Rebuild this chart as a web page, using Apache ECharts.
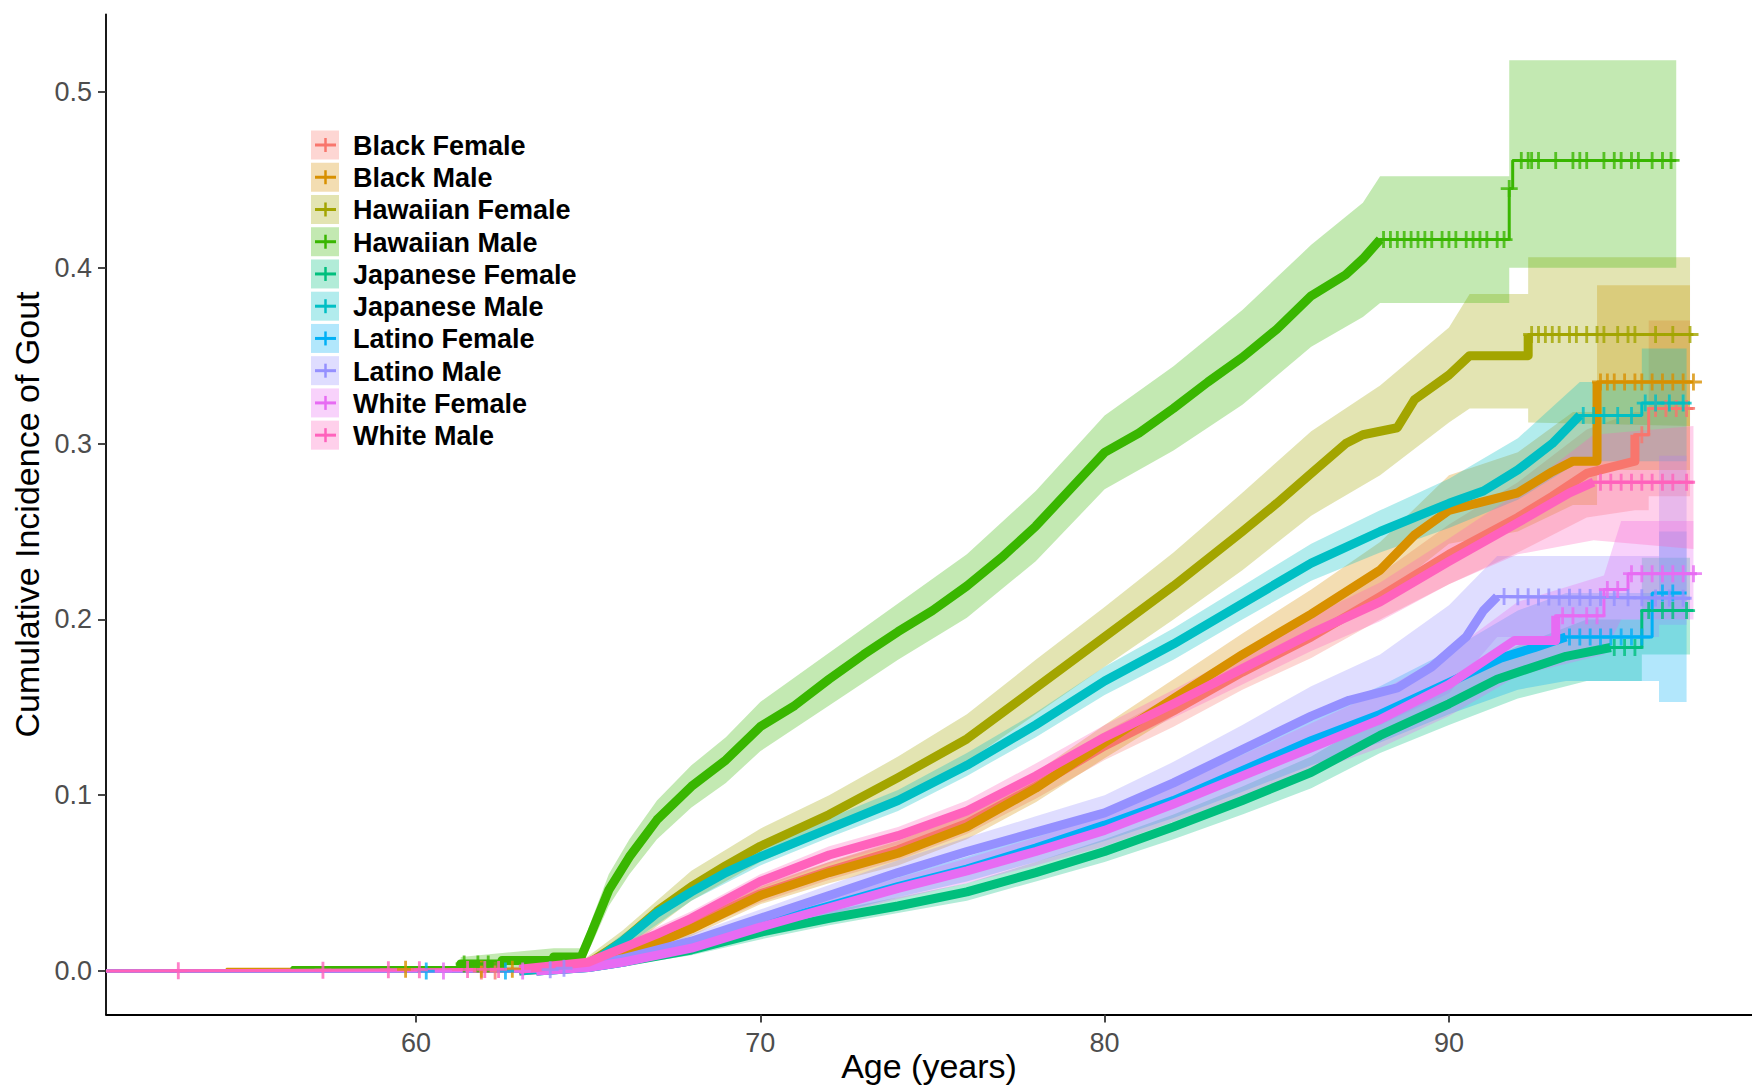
<!DOCTYPE html>
<html>
<head>
<meta charset="utf-8">
<script src="https://cdn.jsdelivr.net/npm/echarts@6/dist/echarts.min.js"></script>
<style>
  html, body { margin: 0; padding: 0; background: #fff; }
  #chart { width: 1752px; height: 1088px; }
</style>
</head>
<body>
<div id="chart"></div>
<script>
// 组名和颜色（ggplot 默认色）
const groupNames = ['Black Female', 'Black Male', 'Hawaiian Female', 'Hawaiian Male', 'Japanese Female',
  'Japanese Male', 'Latino Female', 'Latino Male', 'White Female', 'White Male']
const groupColors = ['#F8766D', '#D89000', '#A3A500', '#39B600', '#00BF7D',
  '#00BFC4', '#00B0F6', '#9590FF', '#E76BF3', '#FF62BC']

const xTicks = [60, 70, 80, 90]
const yTicks = [0, 0.1, 0.2, 0.3, 0.4, 0.5]

// Black Female
const bfAge = [51, 63, 65, 66, 67, 68, 70, 72, 74, 76, 78, 80, 82, 84, 86, 88, 90, 92, 93, 94, 95.4, 95.4, 95.8, 95.8, 97.1]
const bfEst = [0, 0, 0.003, 0.01, 0.018, 0.026, 0.044, 0.057, 0.069, 0.084, 0.105, 0.128, 0.148, 0.17, 0.19, 0.213, 0.237, 0.258, 0.27, 0.283, 0.29, 0.305, 0.305, 0.32, 0.32]
const bfBand = [[63, 0, 0.002], [65, 0.001, 0.005], [66, 0.007, 0.013], [68, 0.022, 0.03], [70, 0.039, 0.049], [72, 0.052, 0.062], [74, 0.063, 0.075], [76, 0.078, 0.09], [78, 0.098, 0.112], [80, 0.12, 0.136], [82, 0.139, 0.157], [84, 0.16, 0.18], [86, 0.178, 0.202], [88, 0.2, 0.226], [90, 0.22, 0.254], [92, 0.238, 0.278], [94, 0.258, 0.308], [95.4, 0.262, 0.318], [95.8, 0.262, 0.318], [95.8, 0.27, 0.37], [97, 0.27, 0.37]]
const bfCens = [61.9, 62.3, 95.6, 96.0, 96.3, 96.6, 96.9]
const bfDense = [62.8, 95.4]

// Black Male
const bmAge = [51, 54.5, 54.5, 63, 65, 66, 67, 68, 70, 72, 74, 76, 78, 80, 82, 84, 86, 88, 89, 90, 91, 92, 93, 93.6, 94.3, 94.3, 97.1]
const bmEst = [0, 0, 0.001, 0.001, 0.003, 0.009, 0.016, 0.024, 0.043, 0.056, 0.067, 0.082, 0.104, 0.13, 0.155, 0.18, 0.203, 0.228, 0.248, 0.262, 0.267, 0.272, 0.284, 0.29, 0.29, 0.335, 0.335]
const bmBand = [[63, 0, 0.003], [65, 0.001, 0.006], [66, 0.006, 0.012], [68, 0.02, 0.028], [70, 0.038, 0.048], [72, 0.05, 0.062], [74, 0.06, 0.074], [76, 0.075, 0.09], [78, 0.096, 0.113], [80, 0.121, 0.14], [82, 0.145, 0.166], [84, 0.168, 0.192], [86, 0.19, 0.217], [88, 0.212, 0.244], [90, 0.243, 0.282], [92, 0.25, 0.295], [93.6, 0.265, 0.318], [94.3, 0.265, 0.318], [94.3, 0.285, 0.39], [97, 0.285, 0.39]]
const bmCens = [59.7, 61.9, 62.8, 94.4, 94.6, 94.8, 95.1, 95.4, 95.6, 95.9, 96.2, 96.5, 96.8, 97.1]
const bmDense = [62, 94.3]

// Hawaiian Female
const hfAge = [51, 63, 64.9, 66, 67, 68, 69, 70, 72, 74, 76, 78, 80, 82, 84, 85, 86, 87, 87.5, 88.5, 89, 90, 90.6, 92.3, 92.3, 97.1]
const hfEst = [0, 0.001, 0.003, 0.017, 0.034, 0.048, 0.06, 0.071, 0.089, 0.11, 0.132, 0.161, 0.19, 0.219, 0.25, 0.266, 0.283, 0.3, 0.305, 0.309, 0.325, 0.339, 0.35, 0.35, 0.362, 0.362]
const hfBand = [[63, 0, 0.004], [64.9, 0.001, 0.007], [66, 0.011, 0.023], [68, 0.04, 0.057], [70, 0.062, 0.081], [72, 0.079, 0.1], [74, 0.098, 0.122], [76, 0.119, 0.146], [78, 0.146, 0.177], [80, 0.173, 0.207], [82, 0.2, 0.238], [84, 0.228, 0.272], [86, 0.259, 0.307], [88, 0.282, 0.333], [90, 0.312, 0.366], [90.6, 0.32, 0.385], [92.3, 0.32, 0.385], [92.3, 0.312, 0.406], [97, 0.31, 0.406]]
const hfCens = [92.4, 92.6, 92.8, 93.0, 93.2, 93.5, 93.7, 94.0, 94.3, 94.5, 94.9, 95.2, 95.4, 96.0, 96.5, 97.0]
const hfDense = [63, 92.3]

// Hawaiian Male
const hmAge = [51, 56.4, 56.4, 61.3, 61.3, 62.5, 62.5, 64, 64, 64.8, 65.1, 65.6, 66.2, 67, 68, 69, 70, 71, 72, 73, 74, 75, 76, 77, 78, 79, 80, 81, 82, 83, 84, 85, 86, 87, 87.5, 88, 91.75, 91.75, 91.85, 91.85, 96.6]
const hmEst = [0, 0, 0.002, 0.002, 0.004, 0.004, 0.006, 0.006, 0.008, 0.008, 0.022, 0.046, 0.065, 0.086, 0.105, 0.12, 0.139, 0.151, 0.166, 0.18, 0.193, 0.205, 0.219, 0.235, 0.253, 0.274, 0.295, 0.306, 0.32, 0.335, 0.349, 0.365, 0.384, 0.396, 0.405, 0.416, 0.416, 0.445, 0.445, 0.461, 0.461]
const hmBand = [[61.3, 0, 0.008], [64, 0.003, 0.013], [64.8, 0.004, 0.013], [65.1, 0.015, 0.029], [65.6, 0.037, 0.055], [66.2, 0.055, 0.075], [67, 0.075, 0.097], [68, 0.093, 0.117], [69, 0.107, 0.133], [70, 0.125, 0.153], [72, 0.151, 0.181], [74, 0.177, 0.209], [76, 0.201, 0.237], [78, 0.233, 0.273], [80, 0.274, 0.316], [82, 0.296, 0.344], [84, 0.322, 0.376], [86, 0.355, 0.413], [87.5, 0.372, 0.437], [88, 0.38, 0.452], [91.75, 0.38, 0.452], [91.75, 0.4, 0.518], [96.6, 0.4, 0.518]]
const hmCens = [61.4, 61.8, 62.1, 88.1, 88.3, 88.5, 88.7, 88.9, 89.1, 89.3, 89.5, 89.8, 90.0, 90.2, 90.5, 90.7, 90.9, 91.1, 91.4, 91.6, 91.75,
  92.1, 92.3, 92.4, 92.6, 93.1, 93.6, 93.8, 94.0, 94.5, 94.8, 95.0, 95.3, 95.5, 95.9, 96.2, 96.45]
const hmDense = [61.3, 88]

// Japanese Female
const jfAge = [51, 63.5, 65, 66, 68, 70, 72, 74, 76, 78, 80, 82, 84, 86, 88, 90, 91.4, 93.4, 94.7, 95.6, 95.6, 97.1]
const jfEst = [0, 0, 0.002, 0.005, 0.012, 0.022, 0.03, 0.037, 0.045, 0.056, 0.068, 0.082, 0.097, 0.113, 0.134, 0.152, 0.166, 0.179, 0.184, 0.184, 0.205, 0.205]
const jfBand = [[63.5, 0, 0.002], [65, 0.001, 0.004], [66, 0.003, 0.007], [68, 0.009, 0.015], [70, 0.018, 0.026], [72, 0.026, 0.034], [74, 0.033, 0.042], [76, 0.04, 0.05], [78, 0.051, 0.062], [80, 0.062, 0.075], [82, 0.075, 0.089], [84, 0.089, 0.105], [86, 0.104, 0.122], [88, 0.124, 0.145], [90, 0.14, 0.165], [92, 0.155, 0.185], [94, 0.165, 0.2], [95.6, 0.165, 0.2], [95.6, 0.18, 0.235], [97, 0.18, 0.235]]
const jfCens = [94.8, 95.1, 95.4, 95.8, 96.2, 96.5, 96.9]
const jfDense = [62.8, 94.7]

// Japanese Male
const jmAge = [51, 63, 65, 66, 67, 68, 69, 70, 72, 74, 76, 78, 80, 82, 84, 86, 88, 90, 91, 92, 93, 93.8, 95.6, 95.6, 97]
const jmEst = [0, 0, 0.003, 0.017, 0.033, 0.045, 0.056, 0.065, 0.081, 0.097, 0.117, 0.14, 0.165, 0.186, 0.209, 0.232, 0.25, 0.266, 0.273, 0.285, 0.3, 0.316, 0.316, 0.323, 0.323]
const jmBand = [[63, 0, 0.002], [65, 0.001, 0.006], [66, 0.013, 0.021], [68, 0.04, 0.05], [70, 0.06, 0.07], [72, 0.076, 0.087], [74, 0.091, 0.103], [76, 0.111, 0.124], [78, 0.133, 0.147], [80, 0.157, 0.173], [82, 0.177, 0.195], [84, 0.2, 0.219], [86, 0.222, 0.243], [88, 0.238, 0.262], [90, 0.252, 0.28], [92, 0.268, 0.303], [93.8, 0.29, 0.335], [95.6, 0.29, 0.335], [95.6, 0.29, 0.354], [96.9, 0.29, 0.354]]
const jmCens = [93.9, 94.2, 94.5, 94.9, 95.3, 95.7, 96.0, 96.4, 96.8]
const jmDense = [62.8, 93.8]

// Latino Female
const lfAge = [51, 63.5, 65, 66, 68, 70, 72, 74, 76, 78, 80, 82, 84, 86, 88, 90, 91.5, 92.5, 93.4, 95.9, 95.9, 96.9]
const lfEst = [0, 0, 0.002, 0.005, 0.014, 0.026, 0.037, 0.048, 0.058, 0.07, 0.083, 0.097, 0.114, 0.131, 0.146, 0.164, 0.178, 0.184, 0.19, 0.19, 0.215, 0.215]
const lfBand = [[63.5, 0, 0.002], [65, 0.001, 0.004], [66, 0.003, 0.008], [68, 0.011, 0.018], [70, 0.022, 0.031], [72, 0.032, 0.042], [74, 0.042, 0.054], [76, 0.051, 0.065], [78, 0.062, 0.078], [80, 0.074, 0.092], [82, 0.087, 0.107], [84, 0.102, 0.126], [86, 0.117, 0.145], [88, 0.13, 0.162], [90, 0.146, 0.182], [92, 0.16, 0.205], [93.4, 0.165, 0.215], [96.1, 0.165, 0.215], [96.1, 0.153, 0.25], [96.9, 0.153, 0.25]]
const lfCens = [60.3, 62.6, 93.5, 93.8, 94.1, 94.4, 94.7, 95.0, 95.3, 95.6, 96.2, 96.5]
const lfDense = [62.8, 93.4]

// Latino Male
const lmAge = [51, 63.5, 65, 66, 68, 70, 72, 74, 76, 78, 80, 82, 84, 86, 87.1, 88.5, 89.5, 90.5, 91.0, 91.4, 97]
const lmEst = [0, 0, 0.003, 0.007, 0.017, 0.03, 0.043, 0.056, 0.068, 0.079, 0.09, 0.107, 0.126, 0.145, 0.154, 0.161, 0.173, 0.19, 0.205, 0.213, 0.212]
const lmBand = [[63.5, 0, 0.002], [65, 0.001, 0.005], [66, 0.004, 0.01], [68, 0.013, 0.021], [70, 0.025, 0.035], [72, 0.037, 0.049], [74, 0.049, 0.063], [76, 0.06, 0.076], [78, 0.07, 0.088], [80, 0.08, 0.1], [82, 0.095, 0.119], [84, 0.112, 0.14], [86, 0.128, 0.162], [88, 0.14, 0.18], [90, 0.158, 0.208], [91.4, 0.19, 0.236], [96.1, 0.19, 0.236], [96.1, 0.197, 0.293], [96.9, 0.197, 0.293]]
const lmCens = [63.9, 64.3, 91.6, 92.0, 92.3, 92.6, 92.9, 93.2, 93.5, 93.8, 94.1, 94.4, 94.8, 95.2, 95.6, 96.0, 96.4, 96.8]
const lmDense = [62.8, 91.4]

// White Female
const wfAge = [51, 63.5, 65, 66, 68, 70, 72, 74, 76, 78, 80, 82, 84, 86, 88, 90, 91.9, 93.1, 93.1, 94.5, 94.5, 95.2, 95.2, 97.2]
const wfEst = [0, 0, 0.002, 0.005, 0.013, 0.025, 0.036, 0.047, 0.057, 0.068, 0.08, 0.095, 0.111, 0.127, 0.143, 0.163, 0.188, 0.188, 0.202, 0.202, 0.217, 0.217, 0.226, 0.226]
const wfBand = [[63.5, 0, 0.002], [65, 0.001, 0.004], [66, 0.003, 0.007], [68, 0.01, 0.016], [70, 0.021, 0.029], [72, 0.031, 0.041], [74, 0.041, 0.053], [76, 0.05, 0.064], [78, 0.06, 0.076], [80, 0.071, 0.089], [82, 0.085, 0.105], [84, 0.099, 0.123], [86, 0.113, 0.141], [88, 0.127, 0.159], [90, 0.145, 0.181], [92, 0.168, 0.21], [94.5, 0.18, 0.225], [95, 0.2, 0.256], [97.1, 0.2, 0.256]]
const wfCens = [60.8, 63.1, 93.3, 93.6, 94.0, 94.3, 94.6, 94.9, 95.3, 95.6, 95.9, 96.2, 96.5, 96.8, 97.1]
const wfDense = [62.8, 93.1]

// White Male
const wmAge = [51, 63, 65, 66, 67, 68, 70, 72, 74, 76, 78, 80, 82, 84, 86, 88, 90, 92, 93.5, 94.2, 97.1]
const wmEst = [0, 0.001, 0.005, 0.013, 0.021, 0.03, 0.051, 0.066, 0.077, 0.091, 0.111, 0.133, 0.152, 0.172, 0.192, 0.21, 0.233, 0.255, 0.272, 0.278, 0.278]
const wmBand = [[63, 0, 0.003], [65, 0.003, 0.007], [66, 0.01, 0.016], [68, 0.026, 0.034], [70, 0.047, 0.055], [72, 0.061, 0.071], [74, 0.072, 0.082], [76, 0.085, 0.097], [78, 0.104, 0.118], [80, 0.126, 0.14], [82, 0.144, 0.16], [84, 0.163, 0.181], [86, 0.182, 0.202], [88, 0.199, 0.221], [90, 0.22, 0.246], [92, 0.237, 0.272], [94.2, 0.245, 0.305], [97.1, 0.24, 0.31]]
const wmCens = [53.1, 57.3, 59.2, 60.1, 61.5, 62.0, 62.4, 94.4, 94.7, 95.0, 95.3, 95.6, 95.9, 96.2, 96.5, 96.9]
const wmDense = [62.5, 94.2]

const allAge = [bfAge, bmAge, hfAge, hmAge, jfAge, jmAge, lfAge, lmAge, wfAge, wmAge]
const allEst = [bfEst, bmEst, hfEst, hmEst, jfEst, jmEst, lfEst, lmEst, wfEst, wmEst]
const allBand = [bfBand, bmBand, hfBand, hmBand, jfBand, jmBand, lfBand, lmBand, wfBand, wmBand]
const allCens = [bfCens, bmCens, hfCens, hmCens, jfCens, jmCens, lfCens, lmCens, wfCens, wmCens]
const allDense = [bfDense, bmDense, hfDense, hmDense, jfDense, jmDense, lfDense, lmDense, wfDense, wmDense]

// 删失标记 +
const plusPath = 'path://M7.5,0h3v7.5h7.5v3h-7.5v7.5h-3v-7.5h-7.5v-3h7.5z'

function rgba(hex, a) {
  const n = parseInt(hex.slice(1), 16)
  return 'rgba(' + (n >> 16) + ',' + ((n >> 8) & 255) + ',' + (n & 255) + ',' + a + ')'
}

// 在估计曲线上取某年龄的值（删失点用）
function estAt(ages, est, a) {
  let v = est[0]
  for (let i = 0; i < ages.length - 1; i++) {
    if (a >= ages[i] && a <= ages[i + 1]) {
      const span = ages[i + 1] - ages[i]
      v = span === 0 ? est[i + 1] : est[i] + (est[i + 1] - est[i]) * (a - ages[i]) / span
    }
  }
  if (a > ages[ages.length - 1]) v = est[est.length - 1]
  return v
}

const bandList = []
const lineList = []
const censList = []
groupNames.forEach((name, g) => {
  const color = groupColors[g]
  const ages = allAge[g]
  const est = allEst[g]
  const band = allBand[g]
  const pts = ages.map((a, i) => [a, est[i]])
  bandList.push({
    type: 'custom',
    name: name,
    data: band,
    encode: { x: 0, y: [1, 2] },
    clip: true,
    silent: true,
    z: 1,
    renderItem: function (params, api) {
      if (params.dataIndex !== 0) return null
      const top = band.map(d => api.coord([d[0], d[2]]))
      const bottom = band.slice().reverse().map(d => api.coord([d[0], d[1]]))
      return { type: 'polygon', shape: { points: top.concat(bottom) }, style: { fill: rgba(color, 0.3) } }
    }
  })
  lineList.push({
    type: 'line',
    name: name,
    data: pts,
    showSymbol: false,
    silent: true,
    z: 3,
    lineStyle: { color: color, width: 3 },
    itemStyle: { color: color }
  })
  // 密集删失处画粗线
  const dr = allDense[g]
  lineList.push({
    type: 'line',
    name: name,
    data: pts.filter(p => p[0] >= dr[0] && p[0] <= dr[1]),
    showSymbol: false,
    silent: true,
    z: 3,
    lineStyle: { color: color, width: 9, cap: 'butt', join: 'round' },
    itemStyle: { color: color }
  })
  censList.push({
    type: 'scatter',
    name: name,
    data: allCens[g].map(a => [a, estAt(ages, est, a)]),
    symbol: plusPath,
    symbolSize: 17,
    silent: true,
    z: 4,
    itemStyle: { color: color }
  })
})

// 图例（手绘）
const legendItems = []
groupNames.forEach((name, g) => {
  const cy = 145 + g * 32.24
  const color = groupColors[g]
  legendItems.push(
    { type: 'rect', shape: { x: 311, y: cy - 14.5, width: 28, height: 29 }, style: { fill: rgba(color, 0.3) } },
    { type: 'line', shape: { x1: 315, y1: cy, x2: 336, y2: cy }, style: { stroke: color, lineWidth: 3 } },
    { type: 'line', shape: { x1: 325.5, y1: cy - 7, x2: 325.5, y2: cy + 7 }, style: { stroke: color, lineWidth: 2.5 } },
    { type: 'text', x: 353, y: cy + 1, style: { text: name, fill: '#000', font: 'bold 27px "Liberation Sans", Arial, sans-serif', textVerticalAlign: 'middle' } }
  )
})

const option = {
  animation: false,
  backgroundColor: '#fff',
  grid: { left: 106, right: 0, top: 14.5, bottom: 73.5, containLabel: false, outerBoundsMode: 'none' },
  xAxis: {
    type: 'value',
    min: 51,
    max: 98.8,
    name: 'Age (years)',
    nameLocation: 'middle',
    nameGap: 34,
    nameMoveOverlap: false,
    nameTextStyle: { fontFamily: 'Liberation Sans', fontSize: 34, color: '#000' },
    axisLine: { onZero: false, lineStyle: { color: '#000', width: 1.8 } },
    axisTick: { customValues: xTicks, length: 8, lineStyle: { color: '#333', width: 1.8 } },
    axisLabel: { customValues: xTicks, margin: 15, fontFamily: 'Liberation Sans', fontSize: 27, color: '#4D4D4D' },
    splitLine: { show: false }
  },
  yAxis: {
    type: 'value',
    min: -0.0247,
    max: 0.544,
    name: 'Cumulative Incidence of Gout',
    nameLocation: 'middle',
    nameRotate: 90,
    nameGap: 62,
    nameMoveOverlap: false,
    nameTextStyle: { fontFamily: 'Liberation Sans', fontSize: 34, color: '#000' },
    axisLine: { onZero: false, lineStyle: { color: '#000', width: 1.8 } },
    axisTick: { customValues: yTicks, length: 8, lineStyle: { color: '#333', width: 1.8 } },
    axisLabel: { customValues: yTicks, margin: 14, fontFamily: 'Liberation Sans', fontSize: 27, color: '#4D4D4D', formatter: v => v.toFixed(1) },
    splitLine: { show: false }
  },
  graphic: { elements: legendItems },
  series: bandList.concat(lineList, censList)
}

const chartObj = echarts.init(document.getElementById('chart'), null, { renderer: 'svg' })
chartObj.setOption(option)
</script>
</body>
</html>
